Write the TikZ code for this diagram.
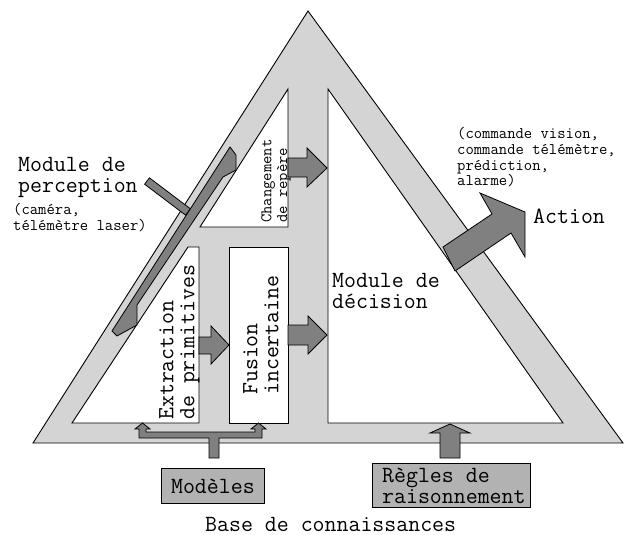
\documentclass[tikz,border=0pt]{standalone}
\usepackage{fontspec}
\newfontfamily\courfont{Latin Modern Mono}

\definecolor{bandgray}{gray}{0.83}
\definecolor{arrowgray}{gray}{0.5}
\definecolor{boxgray}{gray}{0.7}

\tikzset{
  band/.style={draw=black, line width=0.9pt, fill=bandgray},
  hole/.style={draw=black, line width=0.9pt, fill=white},
  blockarr/.style={draw=black, line width=0.8pt, fill=arrowgray},
  kbox/.style={draw=black, line width=0.8pt, fill=boxgray, inner sep=0pt},
  bigtxt/.style={inner sep=0pt, font=\courfont\fontsize{23.2}{21}\selectfont},
  smalltxt/.style={inner sep=0pt, font=\courfont\fontsize{16.2}{15.8}\selectfont},
}

\begin{document}
\begin{tikzpicture}[x=1pt, y=-1pt, line join=miter]

  %% ════ triangle (base de connaissances) ════
  \draw[band] (33,443) -- (308,11) -- (623,443) -- cycle;

  %% ════ zones blanches ════
  \draw[hole] (288,89) -- (288,227) -- (200,227) -- cycle;              % changement de repere
  \draw[hole] (188,247) -- (199,247) -- (199,423) -- (72,423) -- cycle;  % extraction
  \draw[hole] (229,247) rectangle (288,423);                           % fusion
  \draw[hole] (328,89) -- (328,423) -- (563,423) -- cycle;              % decision

  %% ════ fleches pleines ════
  \draw[blockarr] (288,158) -- (307,158) -- (307,148) -- (327,168) -- (307,187) -- (307,177) -- (288,177) -- cycle;
  \draw[blockarr] (199,337) -- (211,337) -- (211,326) -- (229,345) -- (211,364) -- (211,354) -- (199,354) -- cycle;
  \draw[blockarr] (288,325) -- (308,325) -- (308,316) -- (327,335) -- (308,354) -- (308,345) -- (288,345) -- cycle;
  \draw[blockarr] (443,247) -- (492,214) -- (480,193) -- (525,212) -- (525,257) -- (511,233) -- (455,271) -- cycle;
  \draw[blockarr] (440,458) -- (440,433) -- (430,433) -- (450,424) -- (470,433) -- (460,433) -- (460,458) -- cycle;
  \draw[blockarr] (209,458) -- (209,438) -- (139,438) -- (139,429) -- (135,429) -- (142.5,423) -- (150,429)
    -- (146,429) -- (146,432) -- (255,432) -- (255,429) -- (251,429) -- (258.5,423) -- (266,429)
    -- (262,429) -- (262,438) -- (219,438) -- (219,458) -- cycle;

  %% ════ module de perception (barre + tige) ════
  \draw[blockarr] (149.4,177.8) -- (190.4,208.8) -- (185.6,215.2) -- (144.6,184.2) -- cycle;
  \draw[blockarr] (230,147) -- (236,155) -- (236,170) -- (223,177) -- (137,305) -- (137,325)
    -- (117,336) -- (112,331) -- cycle;

  %% ════ textes ════
  \node[bigtxt, anchor=north west, align=left] (percep) at (18,157) {Module de\\perception};
  \node[smalltxt, anchor=north west, align=left] (capteurs) at (13,203) {(caméra,\\télémètre laser)};
  \node[smalltxt, anchor=north west, align=left] (commandes) at (457,127) {(commande vision,\\commande télémètre,\\prédiction,\\alarme)};
  \node[bigtxt, anchor=north west] (action) at (533,209) {Action};
  \node[bigtxt, anchor=north west, align=left] (decision) at (332,273) {Module de\\décision};
  \node[bigtxt, anchor=north west, align=left, rotate=90] (extraction) at (159,420) {Extraction\\de primitives};
  \node[bigtxt, anchor=north west, align=left, rotate=90] (fusion) at (243,395) {Fusion\\incertaine};
  \node[smalltxt, anchor=north west, align=left, rotate=90] (repere) at (261,223) {Changement\\de repère};

  %% ════ boites de connaissances ════
  \node[kbox, bigtxt, draw=black, fill=boxgray, minimum width=103, minimum height=35, anchor=north west] (modeles) at (161,468) {Modèles};
  \node[kbox, minimum width=158, minimum height=44, anchor=north west] (regles) at (372,463) {};
  \node[bigtxt, anchor=west, align=left] (reglestxt) at ([xshift=10pt]regles.west) {Règles de\\raisonnement};
  \node[bigtxt, anchor=base west] (base) at (205,531) {Base de connaissances};

  % cadre fixe
  \pgfresetboundingbox
  \path[use as bounding box] (0,0) rectangle (642,535);
\end{tikzpicture}
\end{document}
